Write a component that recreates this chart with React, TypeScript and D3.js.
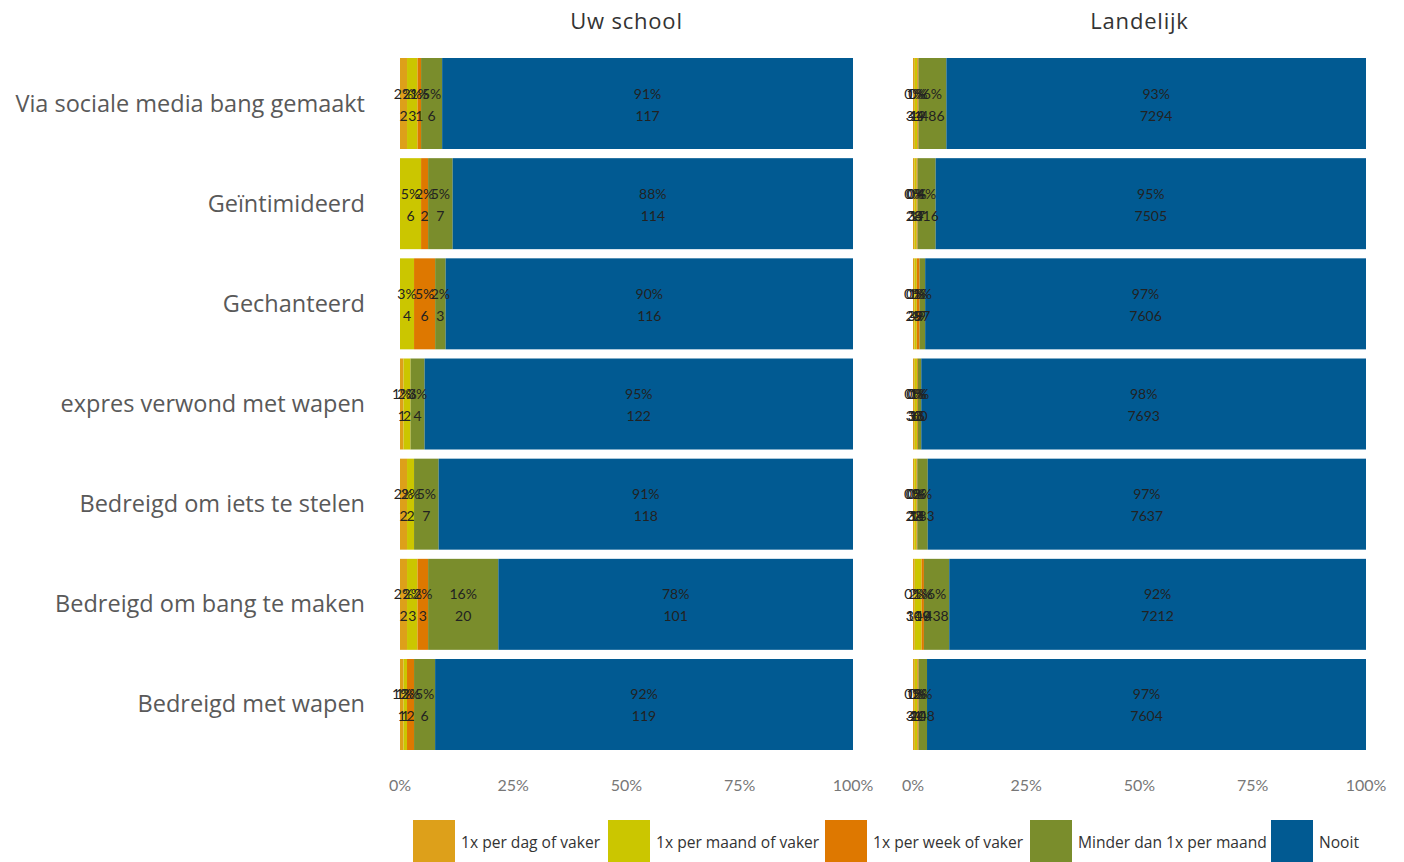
import React from "react";
import * as d3 from "d3";

const categories = [
  "Via sociale media bang gemaakt",
  "Geïntimideerd",
  "Gechanteerd",
  "expres verwond met wapen",
  "Bedreigd om iets te stelen",
  "Bedreigd om bang te maken",
  "Bedreigd met wapen",
];
const seriesNames = [
  "1x per dag of vaker",
  "1x per maand of vaker",
  "1x per week of vaker",
  "Minder dan 1x per maand",
  "Nooit",
];
const colors = ["#DDA01A", "#CBC600", "#DE7800", "#7A8D2C", "#015A92"];

// Uw school counts per category: [dag, maand, week, minder, nooit]
const schoolDag = [2, 0, 0, 1, 2, 2, 1];
const schoolMaand = [3, 6, 4, 2, 2, 3, 1];
const schoolWeek = [1, 2, 6, 0, 0, 3, 2];
const schoolMinder = [6, 7, 3, 4, 7, 20, 6];
const schoolNooit = [117, 114, 116, 122, 118, 101, 119];

// Landelijk counts
const landDag = [31, 28, 25, 30, 22, 30, 31];
const landMaand = [44, 34, 39, 38, 38, 119, 44];
const landWeek = [19, 17, 49, 15, 14, 40, 20];
const landMinder = [486, 316, 97, 60, 183, 438, 148];
const landNooit = [7294, 7505, 7606, 7693, 7637, 7212, 7604];

const tickValues = [0, 0.25, 0.5, 0.75, 1];
const panelTitles = ["Uw school", "Landelijk"];

const FONT = "'Open Sans', Lato, sans-serif";
const FONT_SMALL = "Lato, 'Open Sans', sans-serif";

function buildRows(arrs: number[][]) {
  return categories.map((c, i) => {
    const counts = arrs.map((a) => a[i]);
    const total = d3.sum(counts);
    return { cat: c, counts, total };
  });
}

const schoolRows = buildRows([schoolDag, schoolMaand, schoolWeek, schoolMinder, schoolNooit]);
const landRows = buildRows([landDag, landMaand, landWeek, landMinder, landNooit]);

const y = d3.scaleBand<string>().domain(categories).range([58, 750]).paddingInner(0.0915).paddingOuter(0);

function Panel({ rows, x0, x1, title }: { rows: any[]; x0: number; x1: number; title: string }) {
  const x = d3.scaleLinear().domain([0, 1]).range([x0, x1]);
  const fmt = d3.format(".0%");
  return (
    <g>
      <text x={(x0 + x1) / 2} y={29} textAnchor="middle" fontSize={22} letterSpacing={0.8} fill="#333" fontFamily={FONT}>
        {title}
      </text>
      {rows.map((r) => {
        let acc = 0;
        const yy = y(r.cat)!;
        const bh = y.bandwidth();
        return (
          <g key={r.cat}>
            {r.counts.map((cnt: number, k: number) => {
              const p = cnt / r.total;
              const start = acc;
              acc += p;
              if (cnt === 0) return null;
              return (
                <rect key={k} x={x(start)} y={yy} width={x(start + p) - x(start)} height={bh} fill={colors[k]} />
              );
            })}
            {(() => {
              let a2 = 0;
              return r.counts.map((cnt: number, k: number) => {
                const p = cnt / r.total;
                const start = a2;
                a2 += p;
                if (cnt === 0) return null;
                const cx = x(start + p / 2);
                return (
                  <g key={"t" + k} fontFamily={FONT_SMALL} fontSize={14} fill="#222" textAnchor="middle">
                    <text x={cx} y={yy + bh / 2 - 5}>{fmt(p)}</text>
                    <text x={cx} y={yy + bh / 2 + 17}>{cnt}</text>
                  </g>
                );
              });
            })()}
          </g>
        );
      })}
      {tickValues.map((t) => (
        <text key={t} x={x(t)} y={791} textAnchor="middle" fontSize={16} fill="#777" fontFamily={FONT_SMALL}>
          {fmt(t)}
        </text>
      ))}
    </g>
  );
}

const legendX = [413, 608, 825, 1030, 1271];

export default function App() {
  return (
    <svg width={1404} height={862} style={{ position: "absolute", left: 0, top: 0 }}>
      <rect width={1404} height={862} fill="#fff" />
      {categories.map((c) => (
        <text
          key={c}
          x={365}
          y={y(c)! + y.bandwidth() / 2 + 8}
          textAnchor="end"
          fontSize={23.5}
          fill="#595959"
          fontFamily={FONT}
        >
          {c}
        </text>
      ))}
      <Panel rows={schoolRows} x0={400} x1={853} title={panelTitles[0]} />
      <Panel rows={landRows} x0={913} x1={1366} title={panelTitles[1]} />
      {seriesNames.map((s, i) => (
        <g key={s}>
          <rect x={legendX[i]} y={820} width={42} height={42} fill={colors[i]} />
          <text x={legendX[i] + 48} y={848} fontSize={15.6} fill="#333" fontFamily={FONT}>
            {s}
          </text>
        </g>
      ))}
    </svg>
  );
}
